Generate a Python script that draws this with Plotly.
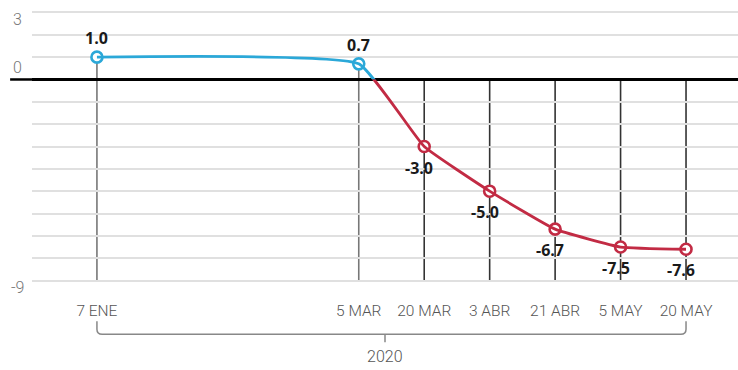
import plotly.graph_objects as go

# ---- data ----
dates = ["7 ENE", "5 MAR", "20 MAR", "3 ABR", "21 ABR", "5 MAY", "20 MAY"]
x_pos = [0, 4, 5, 6, 7, 8, 9]
values = [1.0, 0.7, -3.0, -5.0, -6.7, -7.5, -7.6]
labels = ["1.0", "0.7", "-3.0", "-5.0", "-6.7", "-7.5", "-7.6"]
y_ticks = [3, 0, -9]
year = "2020"

BLUE = "#2BA8D8"
RED = "#C22B44"
XMIN, XMAX = -0.992, 9.794
YMIN, YMAX = -9.2, 3.2
split = (0 - YMIN) / (YMAX - YMIN)

fig = go.Figure()

# invisible trace for main axis
fig.add_trace(go.Scatter(x=[x_pos[0]], y=[values[0]], mode="markers",
                         marker=dict(opacity=0), hoverinfo="skip",
                         xaxis="x", yaxis="y", showlegend=False))
# blue part (above zero), clipped by upper-domain axis
fig.add_trace(go.Scatter(x=x_pos, y=values, mode="lines",
                         line=dict(color=BLUE, width=2.8, shape="spline", smoothing=0.35),
                         xaxis="x", yaxis="y2", showlegend=False, hoverinfo="skip"))
# red part (below zero), clipped by lower-domain axis
fig.add_trace(go.Scatter(x=x_pos, y=values, mode="lines",
                         line=dict(color=RED, width=2.8, shape="spline", smoothing=0.35),
                         xaxis="x", yaxis="y3", showlegend=False, hoverinfo="skip"))
# markers on overlay axis
mcolors = [BLUE if v > 0 else RED for v in values]
fig.add_trace(go.Scatter(x=x_pos, y=values, mode="markers",
                         marker=dict(size=11, color="white",
                                     line=dict(color=mcolors, width=2.6)),
                         cliponaxis=False, xaxis="x", yaxis="y4", showlegend=False))

# vertical lines
for xp, v in zip(x_pos, values):
    fig.add_shape(type="line", xref="x", yref="y", x0=xp, x1=xp,
                  y0=max(v, 0), y1=y_ticks[-1], layer="below",
                  line=dict(color="#777777" if v > 0 else "#333333", width=1.6))

# zero line extension into left margin
fig.add_shape(type="line", xref="paper", yref="y", x0=-0.031, x1=0.0, y0=0, y1=0,
              line=dict(color="black", width=2.5))

# value labels
for xp, v, t in zip(x_pos, values, labels):
    fig.add_annotation(x=xp, y=v, xref="x", yref="y4", text=t, showarrow=False,
                       font=dict(family="Open Sans", size=16, color="#1a1a1a", weight="bold"),
                       yshift=19 if v > 0 else -21, xshift=0 if v > 0 else -5)

# y labels (offset as in original)
yshifts = [-7, 12, -7]
for yv, ys in zip(y_ticks, yshifts):
    fig.add_annotation(x=-0.02, y=yv, xref="paper", yref="y", text=str(yv),
                       showarrow=False, xanchor="center", yshift=ys,
                       font=dict(family="Roboto", size=16, color="#777777", weight=300))

# bracket
rx = 0.08
yt, yb, ytick = -0.131, -0.178, -0.207
x0, x1 = x_pos[0], x_pos[-1]
xc = (XMIN + XMAX) / 2
ry = 0.018
path = (f"M {x0},{yt} L {x0},{yb+ry} Q {x0},{yb} {x0+rx},{yb} "
        f"L {x1-rx},{yb} Q {x1},{yb} {x1},{yb+ry} L {x1},{yt} "
        f"M {xc},{yb} L {xc},{ytick}")
fig.add_shape(type="path", xref="x", yref="paper", path=path,
              line=dict(color="#888888", width=1.5))
fig.add_annotation(x=xc, y=-0.257, xref="x", yref="paper", text=year, showarrow=False,
                   yanchor="middle",
                   font=dict(family="Roboto", size=16, color="#555555", weight=300))

fig.update_layout(
    width=738, height=370,
    margin=dict(l=32, r=0, t=8, b=85),
    paper_bgcolor="white", plot_bgcolor="rgba(0,0,0,0)",
    xaxis=dict(range=[XMIN, XMAX], tickvals=x_pos, ticktext=dates,
               showgrid=False, zeroline=False, showline=False, ticks="",
               tickfont=dict(family="Roboto", size=15.5, color="#555555", weight=300),
               ticklabelstandoff=14),
    yaxis=dict(range=[YMIN, YMAX], dtick=1, tick0=0, showgrid=True,
               gridcolor="#e0e0e0", gridwidth=1.5, showticklabels=False,
               zeroline=True, zerolinecolor="black", zerolinewidth=2.5, ticks=""),
    yaxis2=dict(domain=[split, 1], range=[0, YMAX], visible=False),
    yaxis3=dict(domain=[0, split], range=[YMIN, 0], visible=False),
    yaxis4=dict(overlaying="y", range=[YMIN, YMAX], visible=False),
)

fig.write_html("out.html")
